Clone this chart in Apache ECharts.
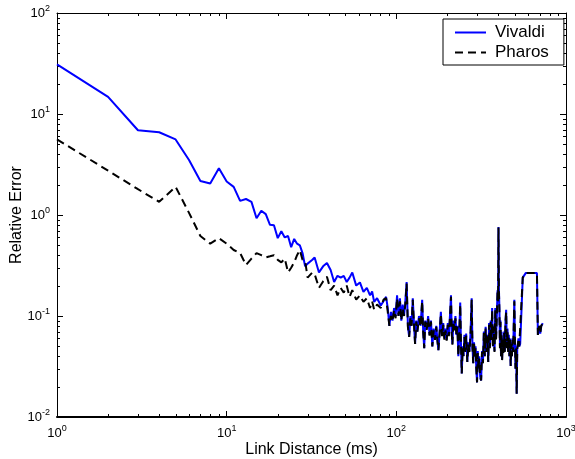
<!DOCTYPE html>
<html>
<head>
<meta charset="utf-8">
<script src="https://cdn.jsdelivr.net/npm/echarts@6/dist/echarts.min.js"></script>
<style>
html, body { margin: 0; padding: 0; background: #fff; }
#relErrChart { width: 575px; height: 459px; }
</style>
</head>
<body>
<div id="relErrChart"></div>
<script>
// link distance (ms), shared by both series
const linkDistance = [
  1, 2, 3, 4, 5, 6, 7, 8, 9, 10, 11, 12, 13, 14, 15, 16, 17, 18, 19, 20,
  21, 22, 23, 24, 25, 26, 27, 28, 29, 30, 32, 33, 35, 37, 39, 41, 43, 45, 47, 49,
  51, 53, 55, 58, 61, 64, 67, 70, 72, 74, 77, 81, 84, 87,
  89, 91, 93, 95, 97, 99, 101, 103, 105, 107, 109, 111, 113, 115, 117, 119, 121, 123, 125, 127,
  129, 131, 133, 136, 139, 142, 144, 146, 148, 151, 154, 157, 160, 163, 166, 169, 172, 175, 177, 180,
  183, 186, 189, 192, 195, 198, 201, 204, 207, 210, 212, 214, 217, 220, 223, 226, 229, 232, 235, 238,
  240, 243, 246, 249, 252, 255, 258, 262, 266, 270, 274, 278, 281, 284, 287, 290, 293, 296, 299, 302,
  305, 308, 312, 316, 320, 324, 328, 332, 336, 340, 344, 348, 352, 356, 360, 364, 367, 371, 375, 379,
  383, 387, 391, 395, 398, 400, 402, 405, 408, 411, 414, 417, 420, 424, 428, 432, 436, 440, 444, 448,
  452, 456, 460, 464, 468, 472, 476, 480, 484, 488, 492, 496, 500, 504, 508, 512, 516, 520, 525, 530,
  537, 556, 580, 674, 683, 695, 705, 715, 730
];
const vivaldiError = [
  31, 14.8, 6.9, 6.6, 5.6, 3.5, 2.17, 2.05, 2.9, 2.15, 1.9, 1.38, 1.44, 1.35, 0.93, 1.1, 1.02, 0.8, 0.79, 0.59,
  0.69, 0.6, 0.62, 0.48, 0.58, 0.52, 0.5, 0.42, 0.31, 0.33, 0.36, 0.38, 0.27, 0.31, 0.335, 0.285, 0.217, 0.25, 0.24, 0.25,
  0.217, 0.24, 0.27, 0.2, 0.215, 0.173, 0.19, 0.16, 0.175, 0.138, 0.15, 0.127, 0.14, 0.155,
  0.12, 0.08, 0.11, 0.09, 0.12, 0.1, 0.16, 0.1, 0.15, 0.09, 0.13, 0.1, 0.14, 0.217, 0.08, 0.062, 0.1, 0.08, 0.15, 0.085,
  0.053, 0.09, 0.07, 0.1, 0.08, 0.145, 0.07, 0.048, 0.09, 0.075, 0.1, 0.065, 0.09, 0.05, 0.075, 0.06, 0.08, 0.055, 0.046, 0.07,
  0.11, 0.065, 0.085, 0.06, 0.075, 0.058, 0.085, 0.065, 0.1, 0.16, 0.07, 0.053, 0.09, 0.075, 0.1, 0.065, 0.08, 0.04, 0.07, 0.136,
  0.06, 0.027, 0.05, 0.04, 0.065, 0.045, 0.067, 0.035, 0.055, 0.045, 0.07, 0.15, 0.05, 0.034, 0.055, 0.04, 0.05, 0.03, 0.022, 0.045,
  0.03, 0.04, 0.025, 0.023, 0.045, 0.035, 0.07, 0.04, 0.078, 0.045, 0.065, 0.035, 0.085, 0.05, 0.09, 0.06, 0.12, 0.05, 0.08, 0.045,
  0.12, 0.06, 0.1, 0.18, 0.15, 0.76, 0.2, 0.12, 0.05, 0.09, 0.04, 0.07, 0.037, 0.06, 0.044, 0.07, 0.045, 0.09, 0.115, 0.05,
  0.075, 0.045, 0.065, 0.04, 0.06, 0.032, 0.055, 0.04, 0.06, 0.045, 0.08, 0.145, 0.06, 0.03, 0.05, 0.017, 0.048, 0.05, 0.06, 0.05,
  0.053, 0.24, 0.267, 0.267, 0.065, 0.08, 0.067, 0.08, 0.085
];
const pharosError = [
  5.6, 2.75, 1.8, 1.35, 1.9, 1.05, 0.62, 0.52, 0.59, 0.52, 0.45, 0.42, 0.32, 0.37, 0.42, 0.4, 0.38, 0.39, 0.4, 0.36,
  0.34, 0.37, 0.27, 0.3, 0.34, 0.4, 0.45, 0.36, 0.35, 0.24, 0.27, 0.26, 0.19, 0.22, 0.245, 0.18, 0.2, 0.16, 0.19, 0.17,
  0.2, 0.155, 0.18, 0.145, 0.16, 0.138, 0.15, 0.12, 0.14, 0.115, 0.13, 0.12, 0.145, 0.15,
  0.11, 0.08, 0.1, 0.088, 0.115, 0.095, 0.15, 0.1, 0.14, 0.09, 0.12, 0.1, 0.13, 0.21, 0.078, 0.062, 0.095, 0.08, 0.145, 0.083,
  0.053, 0.088, 0.07, 0.095, 0.078, 0.14, 0.068, 0.048, 0.088, 0.073, 0.095, 0.064, 0.088, 0.05, 0.072, 0.058, 0.078, 0.055, 0.046, 0.068,
  0.105, 0.063, 0.082, 0.058, 0.072, 0.057, 0.082, 0.063, 0.095, 0.155, 0.068, 0.052, 0.088, 0.072, 0.095, 0.063, 0.078, 0.04, 0.068, 0.13,
  0.06, 0.027, 0.048, 0.04, 0.062, 0.044, 0.064, 0.035, 0.053, 0.044, 0.068, 0.145, 0.048, 0.034, 0.053, 0.04, 0.048, 0.03, 0.022, 0.043,
  0.03, 0.038, 0.025, 0.023, 0.044, 0.034, 0.068, 0.04, 0.075, 0.044, 0.063, 0.035, 0.082, 0.048, 0.087, 0.058, 0.115, 0.048, 0.078, 0.044,
  0.115, 0.058, 0.097, 0.175, 0.14, 0.75, 0.19, 0.115, 0.048, 0.087, 0.04, 0.068, 0.036, 0.058, 0.043, 0.068, 0.044, 0.087, 0.11, 0.048,
  0.072, 0.044, 0.063, 0.04, 0.058, 0.032, 0.053, 0.04, 0.058, 0.044, 0.078, 0.14, 0.058, 0.03, 0.048, 0.017, 0.047, 0.049, 0.058, 0.05,
  0.052, 0.24, 0.267, 0.267, 0.065, 0.08, 0.067, 0.08, 0.085
];
const seriesNames = ["Vivaldi", "Pharos"];

const FONT = "Liberation Sans, Arial, Helvetica, sans-serif";

let myChart = echarts.init(document.getElementById("relErrChart"), null, { renderer: "canvas" });

function powLabel(v) {
  let e = Math.round(Math.log10(v));
  return "{b|10}{s|" + e + "}";
}
const richPow = {
  b: { fontSize: 13, fontFamily: FONT, color: "#000" },
  s: { fontSize: 9, fontFamily: FONT, color: "#000", padding: [0, 0, 9, 0] },
};

function logAxis(pos, min, max, withLabels, extra) {
  return Object.assign({
    type: "log",
    logBase: 10,
    position: pos,
    min: min,
    max: max,
    axisLine: { show: true, onZero: false, lineStyle: { color: "#000", width: 1 } },
    axisTick: { show: true, inside: true, length: 6, lineStyle: { color: "#000" } },
    axisLabel: withLabels
      ? { show: true, formatter: powLabel, rich: richPow, margin: 7, hideOverlap: false }
      : { show: false },
    splitLine: { show: false },
    minorTick: { show: false },
  }, extra || {});
}

let options = {
  animation: false,
  backgroundColor: "#fff",
  grid: { left: 57, right: 9, top: 13, bottom: 42, containLabel: false, outerBoundsMode: "none" },
  legend: {
    data: seriesNames,
    orient: "vertical",
    left: 443,
    top: 19,
    padding: [5, 15, 4, 11],
    itemGap: 3,
    itemWidth: 31,
    itemHeight: 14,
    backgroundColor: "#fff",
    borderColor: "#000",
    borderWidth: 1,
    borderRadius: 0,
    itemStyle: { opacity: 0 },
    textStyle: { fontSize: 17, fontFamily: FONT, color: "#000", padding: [0, 0, 0, 4] },
  },
  xAxis: [
    logAxis("bottom", 1, 1000, true, {
      name: "Link Distance (ms)",
      nameLocation: "middle",
      nameGap: 25,
      nameMoveOverlap: false,
      nameTextStyle: { fontSize: 16, fontFamily: FONT, color: "#000" },
      axisLine: { show: true, onZero: false, lineStyle: { color: "#000", width: 2 } },
    }),
    logAxis("top", 1, 1000, false),
  ],
  yAxis: [
    logAxis("left", 0.01, 100, true, {
      name: "Relative Error",
      nameLocation: "middle",
      nameGap: 32,
      nameMoveOverlap: false,
      nameRotate: 90,
      nameTextStyle: { fontSize: 16, fontFamily: FONT, color: "#000" },
    }),
    logAxis("right", 0.01, 100, false),
  ],
  series: [
    {
      name: seriesNames[0],
      type: "line",
      showSymbol: false,
      symbol: "none",
      data: linkDistance.map((d, i) => [d, vivaldiError[i]]),
      lineStyle: { color: "#0000ff", width: 2 },
      itemStyle: { color: "#0000ff" },
    },
    {
      name: seriesNames[1],
      type: "line",
      showSymbol: false,
      symbol: "none",
      data: linkDistance.map((d, i) => [d, pharosError[i]]),
      lineStyle: { color: "#000", width: 2, type: [8, 5] },
      itemStyle: { color: "#000" },
    },
  ],
};
myChart.setOption(options);

// minor ticks (2..9 in every decade) on all four sides, pointing inward
function minorTicks() {
  let left = myChart.convertToPixel({ xAxisIndex: 0 }, 1);
  let right = myChart.convertToPixel({ xAxisIndex: 0 }, 1000);
  let bottom = myChart.convertToPixel({ yAxisIndex: 0 }, 0.01);
  let top = myChart.convertToPixel({ yAxisIndex: 0 }, 100);
  let len = 3;
  let g = [];
  let line = (x1, y1, x2, y2) => g.push({
    type: "line", silent: true,
    shape: { x1: x1, y1: y1, x2: x2, y2: y2 },
    style: { stroke: "#000", lineWidth: 1 },
  });
  for (let d = 0; d < 3; d++) {
    for (let k = 2; k <= 9; k++) {
      let x = Math.round(myChart.convertToPixel({ xAxisIndex: 0 }, k * Math.pow(10, d))) + 0.5;
      line(x, bottom, x, bottom - len);
      line(x, top, x, top + len);
    }
  }
  for (let d = -2; d < 2; d++) {
    for (let k = 2; k <= 9; k++) {
      let y = Math.round(myChart.convertToPixel({ yAxisIndex: 0 }, k * Math.pow(10, d))) + 0.5;
      line(left, y, left + len, y);
      line(right, y, right - len, y);
    }
  }
  myChart.setOption({ graphic: g });
}
minorTicks();
</script>
</body>
</html>
